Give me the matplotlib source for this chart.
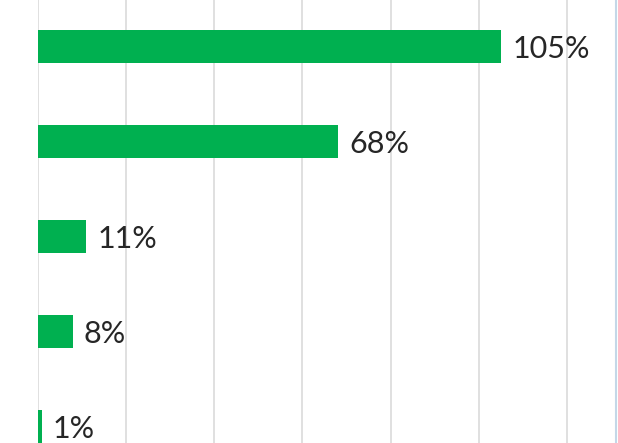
import matplotlib.pyplot as plt

# values shown on the bars, top to bottom
values = [105, 68, 11, 8, 1]
labels = ["105%", "68%", "11%", "8%", "1%"]
grid_ticks = [0, 20, 40, 60, 80, 100, 120]

fig = plt.figure(figsize=(6.18, 4.43), dpi=100)
ax = fig.add_axes([37.5 / 618, 0, (616 - 37.5) / 618, 1])

pos = list(range(len(values)))
ax.barh(pos, values, height=0.347, color="#00B050", zorder=3)

for p, v, lab in zip(pos, values, labels):
    ax.annotate(lab, (v, p), xytext=(8, -1.5), textcoords="offset points",
                va="center", ha="left", fontsize=22, color="#262626",
                family=["Lato", "DejaVu Sans"])

ax.set_xlim(0, 131)
ax.set_ylim(4.174, -0.489)
ax.set_xticks(grid_ticks)
ax.set_yticks([])
ax.tick_params(axis="x", length=0, labelbottom=False)
ax.grid(axis="x", color="#dadada", linewidth=1.2, zorder=0)
ax.set_axisbelow(True)
for s in ["top", "bottom", "left"]:
    ax.spines[s].set_visible(False)
ax.spines["right"].set_color("#c4d8e8")
ax.spines["right"].set_linewidth(1.5)

fig.savefig("out.png", dpi=100)
